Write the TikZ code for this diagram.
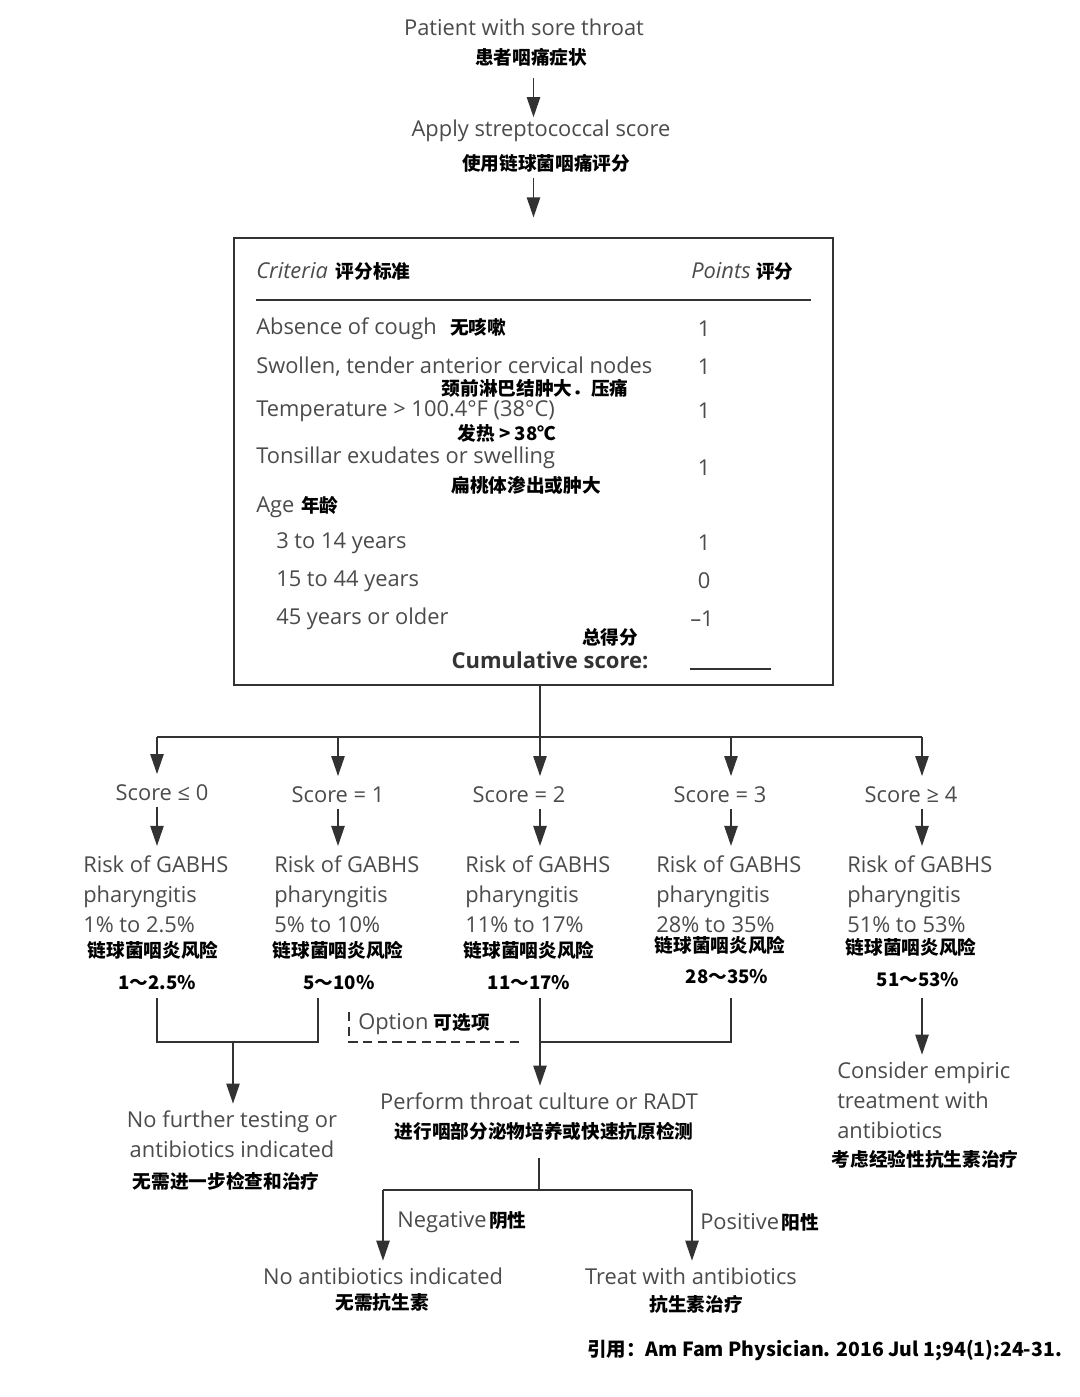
\documentclass[tikz,border=0pt]{standalone}
\usepackage{fontspec}
\setmainfont{Open Sans}
\newfontfamily\cjk{Noto Sans CJK SC}
\usetikzlibrary{arrows.meta, positioning}
\definecolor{txtgray}{RGB}{75,75,75}
\definecolor{linegray}{RGB}{50,50,50}
\newcommand{\zh}[1]{{\cjk\bfseries\fontsize{14}{16}\selectfont\color{black}#1}}

\begin{document}
\begin{tikzpicture}[x=0.75pt, y=-0.75pt,
    en/.style={font=\fontsize{16.4}{22.5}\selectfont, text=txtgray, inner sep=0pt},
    cn/.style={font=\cjk\bfseries\fontsize{14}{16}\selectfont, inner sep=0pt},
    link/.style={draw=linegray, line width=1.1pt},
    arr/.style={link, -{Triangle[length=15pt, width=10pt]}}]

    \useasboundingbox[fill=white] (0,0) rectangle (1080,1397);

    % top of the chart
    \node[en] (pat) at (524,27) {Patient with sore throat};
    \node[cn] (pat-cn) at (531,57) {患者咽痛症状};
    \node[en] (apply) at (541,131) {Apply streptococcal score};
    \node[cn] (apply-cn) at (546,163) {使用链球菌咽痛评分};
    \node[draw=linegray, line width=0.9pt, minimum width=449.25pt, minimum height=335.25pt] (box) at (533.5,461.5) {};

    \draw[arr, shorten >=2] (pat-cn.south -| box.north) ++(0,12) -- (apply.north -| box.north);
    \draw[arr, shorten >=15] (apply-cn.south -| box.north) ++(0,6) -- (box.north);

    % score table
    \node[en, anchor=west] (crit) at (256,271) {\textit{Criteria}\hspace{6pt}\zh{评分标准}};
    \node[en, anchor=west] (pts) at (691,271) {\textit{Points}\hspace{4pt}\zh{评分}};
    \draw[link, line width=0.8pt] (256,300) -- (811,300);

    \node[en, anchor=west] (r1) at (256,329) {Absence of cough\hspace{10pt}\zh{无咳嗽}};
    \node[en] (p1) at (704,329) {1};
    \node[en, anchor=west] (r2) at (256,367) {Swollen, tender anterior cervical nodes};
    \node[en] (p2) at (704,367) {1};
    \node[cn] (r2-cn) at (535,388) {颈前淋巴结肿大．压痛};
    \node[en, anchor=west] (r3) at (256,411) {Temperature > 100.4°F (38°C)};
    \node[en] (p3) at (704,411) {1};
    \node[cn] (r3-cn) at (507,433) {发热 > 38℃};
    \node[en, anchor=west] (r4) at (256,458) {Tonsillar exudates or swelling};
    \node[en] (p4) at (704,468) {1};
    \node[cn] (r4-cn) at (526,485) {扁桃体渗出或肿大};
    \node[en, anchor=west] (age) at (256,507) {Age\hspace{5pt}\zh{年龄}};
    \node[en, anchor=west] (a1) at (276,543) {3 to 14 years};
    \node[en] (p5) at (704,543) {1};
    \node[en, anchor=west] (a2) at (276,581) {15 to 44 years};
    \node[en] (p6) at (704,581) {0};
    \node[en, anchor=west] (a3) at (276,619) {45 years or older};
    \node[en] (p7) at (702,619) {–1};
    \node[cn] (tot-cn) at (610,637) {总得分};
    \node[en, font=\bfseries\fontsize{16.5}{18}\selectfont, text=black!80] (tot) at (550,660) {Cumulative score:};
    \draw[link, line width=0.8pt] (690,669) -- (771,669);

    % five score branches
    \coordinate (b0) at (157,737);
    \coordinate (b1) at (338,737);
    \coordinate (b2) at (540,737);
    \coordinate (b3) at (731,737);
    \coordinate (b4) at (922,737);
    \draw[link] (b0) -- (b4);
    \draw[link] (box.south -| b2) -- (b2);

    \node[en] (s0) at (162,793) {Score ≤ 0};
    \node[en] (s1) at (338,795) {Score = 1};
    \node[en] (s2) at (519,795) {Score = 2};
    \node[en] (s3) at (720,795) {Score = 3};
    \node[en] (s4) at (911,795) {Score ≥ 4};

    \node[en, anchor=west, align=left] (k0) at (83,894) {Risk of GABHS\\pharyngitis\\1\% to 2.5\%};
    \node[en, anchor=west, align=left] (k1) at (274,894) {Risk of GABHS\\pharyngitis\\5\% to 10\%};
    \node[en, anchor=west, align=left] (k2) at (465,894) {Risk of GABHS\\pharyngitis\\11\% to 17\%};
    \node[en, anchor=west, align=left] (k3) at (656,894) {Risk of GABHS\\pharyngitis\\28\% to 35\%};
    \node[en, anchor=west, align=left] (k4) at (847,894) {Risk of GABHS\\pharyngitis\\51\% to 53\%};

    \node[cn] (k0-cn) at (153,950) {链球菌咽炎风险};
    \node[cn] (k1-cn) at (338,950) {链球菌咽炎风险};
    \node[cn] (k2-cn) at (529,950) {链球菌咽炎风险};
    \node[cn] (k3-cn) at (720,945) {链球菌咽炎风险};
    \node[cn] (k4-cn) at (911,947) {链球菌咽炎风险};
    \node[cn] (k0-pc) at (157,983) {1～2.5\%};
    \node[cn] (k1-pc) at (339,983) {5～10\%};
    \node[cn] (k2-pc) at (529,983) {11～17\%};
    \node[cn] (k3-pc) at (727,977) {28～35\%};
    \node[cn] (k4-pc) at (918,980) {51～53\%};

    \foreach \i in {0,...,4} {
        \draw[arr, shorten >=8] (b\i) -- (b\i |- s\i.north);
        \draw[arr, shorten <=4, shorten >=7] (b\i |- s\i.south) -- (b\i |- k\i.north);
    }

    % what to do next
    \node[en, align=center] (nof) at (232,1134) {No further testing or\\antibiotics indicated};
    \node[cn] (nof-cn) at (226,1181) {无需进一步检查和治疗};
    \node[en] (perf) at (539,1101) {Perform throat culture or RADT};
    \node[cn] (perf-cn) at (544,1131) {进行咽部分泌物培养或快速抗原检测};
    \node[en, anchor=west, align=left] (emp) at (837,1100) {Consider empiric\\treatment with\\antibiotics};
    \node[cn] (emp-cn) at (925,1159) {考虑经验性抗生素治疗};
    \node[en, anchor=west] (opt) at (358,1024) {Option\hspace{4pt}\zh{可选项}};

    \coordinate (t0) at (157,998);
    \coordinate (t1) at (318,998);
    \coordinate (t2) at (540,998);
    \coordinate (t3) at (731,998);
    \coordinate (t4) at (922,998);
    \coordinate (d0) at (349,1012);
    \coordinate (j0) at (157,1042);
    \coordinate (j1) at (318,1042);
    \coordinate (j01) at (233,1042);
    \coordinate (j2) at (540,1042);
    \coordinate (j3) at (731,1042);

    \draw[link] (t0) -- (j0) -- (j1) -- (t1);
    \draw[arr, shorten >=5] (j01) -- (j01 |- nof.north);
    \draw[link, dash pattern=on 7pt off 4pt] (d0) -- (d0 |- j2) -- ([xshift=-12]j2);
    \draw[link] (t3) -- (j3) -- (j2);
    \draw[arr, shorten >=5] (t2) -- (t2 |- perf.north);
    \draw[arr, shorten >=5] (t4) -- (t4 |- emp.north);

    % test result
    \node[en] (neg-end) at (383,1276) {No antibiotics indicated};
    \node[cn] (neg-cn) at (382,1302) {无需抗生素};
    \node[en] (pos-end) at (691,1276) {Treat with antibiotics};
    \node[cn] (pos-cn) at (696,1304) {抗生素治疗};
    \node[en, anchor=west] (neg) at (397,1222) {Negative\hspace{2pt}\zh{阴性}};
    \node[en, anchor=west] (pos) at (700,1222) {Positive\hspace{2pt}\zh{阳性}};

    \coordinate (m) at (539,1190);
    \coordinate (mn) at (383,1190);
    \coordinate (mp) at (692,1190);
    \draw[link] (perf-cn.south -| m) ++(0,18) -- (m);
    \draw[link] (mn) -- (mp);
    \draw[arr, shorten >=5] (mn) -- (mn |- neg-end.north);
    \draw[arr, shorten >=5] (mp) -- (mp |- pos-end.north);

    \node[cn, anchor=west, font=\cjk\bfseries\fontsize{14.6}{16}\selectfont] (cite) at (587,1351) {引用：Am Fam Physician. 2016 Jul 1;94(1):24-31.};
\end{tikzpicture}
\end{document}
